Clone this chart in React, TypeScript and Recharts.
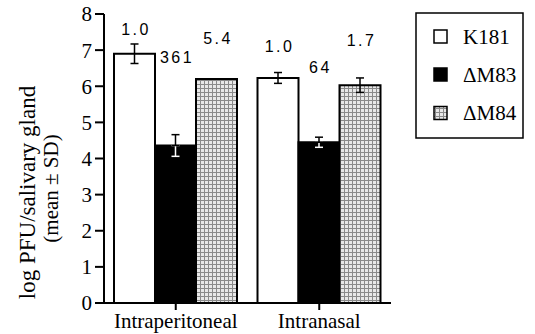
import React from "react";
import { BarChart, Bar, XAxis, YAxis, ErrorBar, LabelList, Legend } from "recharts";

const categories = ["Intraperitoneal", "Intranasal"];
const seriesNames = ["K181", "\u0394M83", "\u0394M84"];
const k181 = [6.9, 6.23];
const k181Err = [0.27, 0.15];
const m83 = [4.36, 4.45];
const m83Err = [0.3, 0.14];
const m84 = [6.2, 6.03];
const m84Err = [0, 0.2];
const k181Labels = ["1.0", "1.0"];
const m83Labels = ["361", "64"];
const m84Labels = ["5.4", "1.7"];
const k181LabelAt = [7.43, 6.94];
const m83LabelAt = [6.63, 6.38];
const m84LabelAt = [7.18, 7.12];
const yTicks = [0, 1, 2, 3, 4, 5, 6, 7, 8];

const data = categories.map((c, i) => ({
  category: c,
  k181: k181[i],
  k181Err: k181Err[i],
  k181Label: k181Labels[i],
  m83: m83[i],
  m83ErrLow: [m83Err[i], 0],
  m83ErrHigh: [0, m83Err[i]],
  m83Label: m83Labels[i],
  m84: m84[i],
  m84Err: m84Err[i],
  m84Label: m84Labels[i],
}));

const SERIF = "'Liberation Serif', 'Times New Roman', Times, serif";
const SANS = "'Liberation Sans', Arial, Helvetica, sans-serif";

const makeLabel = (values: number[], anchors: number[]) => (props: any) => {
  const vb = props.viewBox && props.viewBox.width !== undefined ? props.viewBox : props;
  const x = Number(vb.x);
  const y = Number(vb.y);
  const width = Number(vb.width);
  const height = Number(vb.height);
  const idx = props.index ?? 0;
  const v = values[idx];
  if (!isFinite(x) || !isFinite(y) || !v) return null;
  const base = y + height;
  const ppu = height / v;
  const ty = base - anchors[idx] * ppu;
  return (
    <text
      x={x + width / 2 + 1.5}
      y={ty}
      textAnchor="middle"
      style={{ fontFamily: SANS, fontSize: 16, letterSpacing: 2.5 }}
      fill="#000"
    >
      {props.value}
    </text>
  );
};

const YTitle = (props: any) => {
  const vb = props.viewBox || { x: 0, y: 14, width: 104, height: 289 };
  const cy = vb.y + vb.height / 2 + 34;
  return (
    <g>
      <text
        x={27}
        y={cy}
        transform={`rotate(-90, 27, ${cy})`}
        textAnchor="middle"
        dominantBaseline="central"
        style={{ fontFamily: SERIF, fontSize: 23 }}
        fill="#000"
      >
        log PFU/salivary gland
      </text>
      <text
        x={51}
        y={cy - 4}
        transform={`rotate(-90, 51, ${cy - 4})`}
        textAnchor="middle"
        dominantBaseline="central"
        style={{ fontFamily: SERIF, fontSize: 21 }}
        fill="#000"
      >
        (mean ± SD)
      </text>
    </g>
  );
};

const swatchFills = ["#fff", "#000", "url(#stippleL)"];

const LegendBox = () => (
  <svg width={110} height={128} style={{ display: "block" }}>
    <defs>
      <pattern id="stippleL" width="4" height="4" patternUnits="userSpaceOnUse">
        <rect width="4" height="4" fill="#e8e8e8" />
        <rect x="0" y="0" width="4" height="1" fill="#8a8a8a" />
        <rect x="0" y="0" width="1" height="4" fill="#8a8a8a" />
      </pattern>
    </defs>
    <rect x={1} y={1} width={107} height={125} fill="#fff" stroke="#000" strokeWidth={1.5} />
    {seriesNames.map((n, i) => {
      const cy = [24.5, 62.5, 101][i];
      return (
        <g key={n}>
          <rect x={19} y={cy - 6.5} width={13} height={13} fill={swatchFills[i]} stroke="#000" strokeWidth={1.5} />
          <text x={48} y={cy} dominantBaseline="central" style={{ fontFamily: SERIF, fontSize: 21 }} fill="#000">
            {n}
          </text>
        </g>
      );
    })}
  </svg>
);

const axisStyle = { stroke: "#000", strokeWidth: 2 };
const errWidth = 4;

export default function App() {
  return (
    <div style={{ position: "absolute", left: 0, top: 0, width: 535, height: 334, background: "#fff" }}>
      <BarChart
        width={535}
        height={334}
        data={data}
        margin={{ top: 14, right: 144, bottom: 0, left: 0 }}
        barCategoryGap={10}
        barGap={0}
      >
        <defs>
          <pattern id="stipple" width="4" height="4" patternUnits="userSpaceOnUse">
            <rect width="4" height="4" fill="#e8e8e8" />
            <rect x="0" y="0" width="4" height="1" fill="#8a8a8a" />
            <rect x="0" y="0" width="1" height="4" fill="#8a8a8a" />
          </pattern>
        </defs>
        <XAxis
          xAxisId="bottom"
          dataKey="category"
          height={31}
          tickSize={7}
          tickMargin={3}
          interval={0}
          axisLine={axisStyle}
          tickLine={axisStyle}
          tick={{ fill: "#000", fontSize: 21, fontFamily: SERIF }}
        />
        <XAxis
          xAxisId="top"
          orientation="top"
          dataKey="category"
          height={0}
          tick={false}
          tickLine={false}
          axisLine={axisStyle}
        />
        <YAxis
          yAxisId="left"
          width={104}
          domain={[0, 8]}
          ticks={yTicks}
          interval={0}
          tickSize={9}
          tickMargin={3}
          axisLine={axisStyle}
          tickLine={axisStyle}
          tick={{ fill: "#000", fontSize: 21, fontFamily: SERIF }}
          label={{ content: (p: any) => <YTitle {...p} /> }}
        />
        <YAxis
          yAxisId="right"
          orientation="right"
          width={0}
          domain={[0, 8]}
          tick={false}
          tickLine={false}
          axisLine={axisStyle}
        />
        <Bar xAxisId="bottom" yAxisId="left" dataKey="k181" name={seriesNames[0]} fill="#fff" stroke="#000" strokeWidth={2} isAnimationActive={false}>
          <ErrorBar dataKey="k181Err" width={errWidth} stroke="#000" strokeWidth={1.5} isAnimationActive={false} />
          <LabelList dataKey="k181Label" content={makeLabel(k181, k181LabelAt)} />
        </Bar>
        <Bar xAxisId="bottom" yAxisId="left" dataKey="m83" name={seriesNames[1]} fill="#000" stroke="#000" strokeWidth={2} isAnimationActive={false}>
          <ErrorBar dataKey="m83ErrLow" width={errWidth} stroke="#fff" strokeWidth={1.5} isAnimationActive={false} />
          <ErrorBar dataKey="m83ErrHigh" width={errWidth} stroke="#000" strokeWidth={1.5} isAnimationActive={false} />
          <LabelList dataKey="m83Label" content={makeLabel(m83, m83LabelAt)} />
        </Bar>
        <Bar xAxisId="bottom" yAxisId="left" dataKey="m84" name={seriesNames[2]} fill="url(#stipple)" stroke="#000" strokeWidth={2} isAnimationActive={false}>
          <ErrorBar dataKey="m84Err" width={errWidth} stroke="#000" strokeWidth={1.5} isAnimationActive={false} />
          <LabelList dataKey="m84Label" content={makeLabel(m84, m84LabelAt)} />
        </Bar>
        <Legend
          layout="vertical"
          align="center"
          verticalAlign="middle"
          content={() => <LegendBox />}
          wrapperStyle={{ position: "absolute", left: 415, top: 12, width: 110, height: 128 }}
        />
      </BarChart>
    </div>
  );
}
